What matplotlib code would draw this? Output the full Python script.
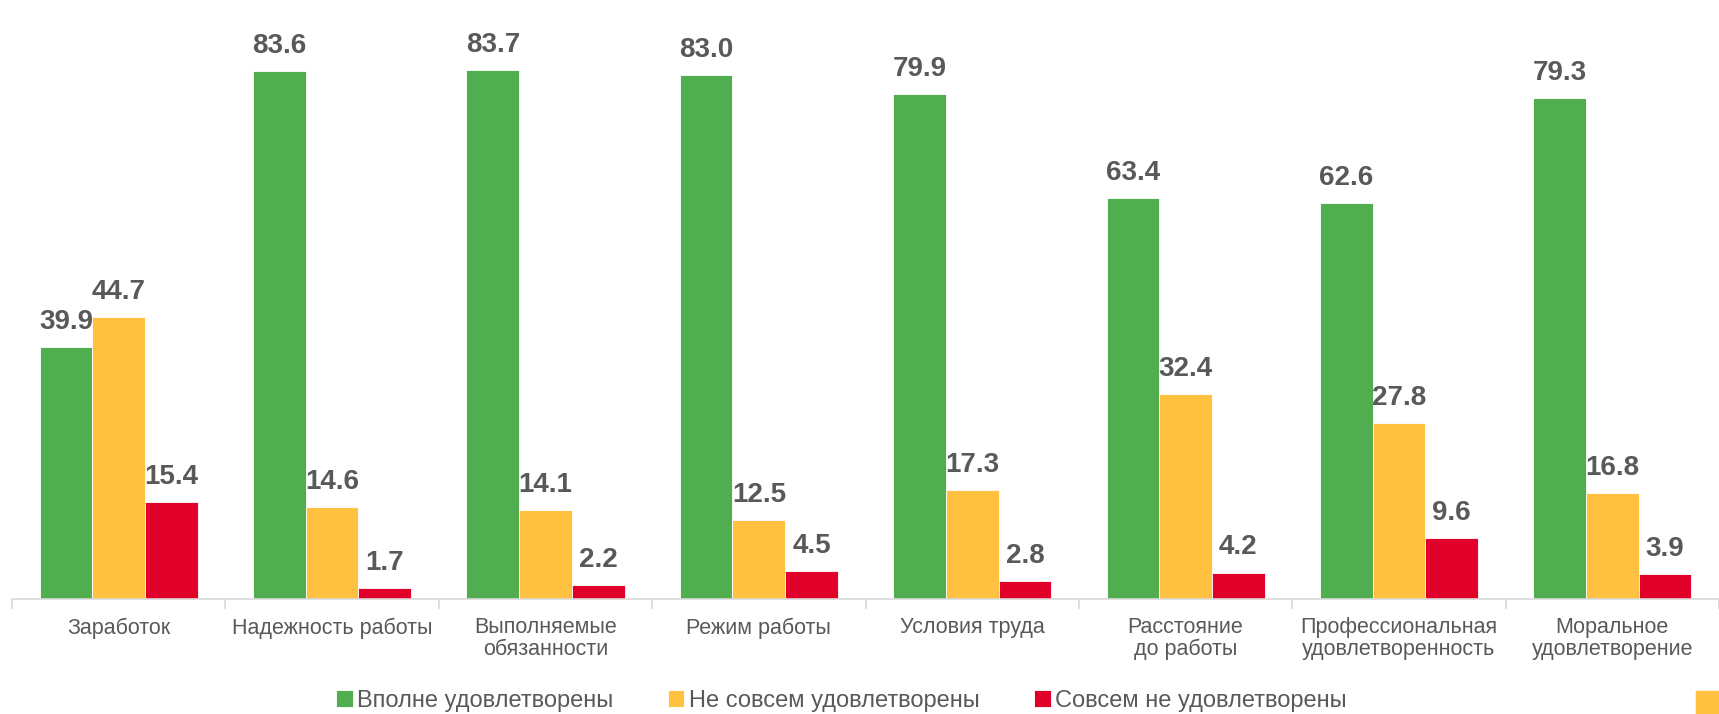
import numpy as np
import matplotlib.pyplot as plt
from matplotlib.patches import Rectangle

plt.rcParams['font.family'] = ['Liberation Sans', 'DejaVu Sans']

# Data
categories = ['Заработок', 'Надежность работы', 'Выполняемые\nобязанности', 'Режим работы',
              'Условия труда', 'Расстояние\nдо работы', 'Профессиональная\nудовлетворенность',
              'Моральное\nудовлетворение']
series_names = ['Вполне удовлетворены', 'Не совсем удовлетворены', 'Совсем не удовлетворены']
fully = [39.9, 83.6, 83.7, 83.0, 79.9, 63.4, 62.6, 79.3]
partly = [44.7, 14.6, 14.1, 12.5, 17.3, 32.4, 27.8, 16.8]
not_at_all = [15.4, 1.7, 2.2, 4.5, 2.8, 4.2, 9.6, 3.9]
colors = ['#50ae50', '#ffc13f', '#e1002a']
text_color = '#595959'

fig = plt.figure(figsize=(17.19, 7.14), dpi=100)
ax = fig.add_axes([0.007, 0.161, 0.993, 0.839])

x = np.arange(len(categories))
width = 0.247
for i, (vals, name, col) in enumerate(zip([fully, partly, not_at_all], series_names, colors)):
    pos = x + (i - 1) * width
    bars = ax.bar(pos, vals, width, color=col, label=name, edgecolor='white', linewidth=0.6)
    for b, v in zip(bars, vals):
        ax.annotate(f'{v:.1f}', (b.get_x() + b.get_width() / 2, v), xytext=(0, 13),
                    textcoords='offset points', ha='center', va='baseline',
                    fontsize=20, fontweight='bold', color=text_color)

ax.set_xlim(-0.5, len(categories) - 0.5)
ax.set_ylim(0, 94.8)
ax.set_yticks([])
for s in ['top', 'right', 'left']:
    ax.spines[s].set_visible(False)
ax.spines['bottom'].set_color('#d9d9d9')
ax.spines['bottom'].set_linewidth(1.2)

# category boundary ticks
ax.set_xticks(np.arange(len(categories) + 1) - 0.5)
ax.set_xticklabels([])
ax.tick_params(axis='x', length=7, color='#d9d9d9', width=1.2)
for xi, cat in zip(x, categories):
    ax.text(xi, -2.9, cat, ha='center', va='top', fontsize=15.5, color=text_color,
            linespacing=1.05)

ax.legend(loc='lower center', bbox_to_anchor=(0.486, -0.204), ncol=3, frameon=False,
          fontsize=17, handlelength=0.7, handleheight=0.7, handletextpad=0.2,
          columnspacing=2.3, labelcolor=text_color, borderaxespad=0)

# small yellow square in the bottom right corner
fig.patches.append(Rectangle((1696 / 1719, 0), 23 / 1719, 23 / 714, transform=fig.transFigure,
                             color=colors[1], zorder=5))

fig.savefig('out.png', dpi=100)
